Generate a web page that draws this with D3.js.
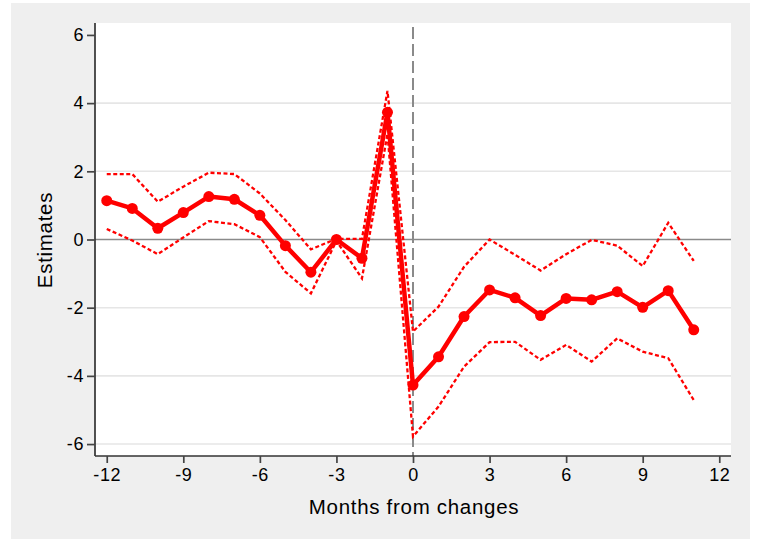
<!DOCTYPE html>
<meta charset="utf-8">
<style>
body { margin: 0; background: #fff; }
text { font-family: "Liberation Sans", Arial, sans-serif; fill: #000; }
</style>

<svg width="758" height="539"></svg>

<script src="https://d3js.org/d3.v7.min.js"></script>
<script>

// meses relativos à mudança
var months = [-12,-11,-10,-9,-8,-7,-6,-5,-4,-3,-2,-1,0,1,2,3,4,5,6,7,8,9,10,11];
var estimate = [1.14,0.91,0.33,0.79,1.26,1.18,0.71,-0.18,-0.96,0,-0.55,3.73,-4.27,-3.44,-2.26,-1.48,-1.71,-2.23,-1.73,-1.77,-1.53,-1.99,-1.50,-2.65];
var upper = [1.92,1.92,1.11,1.55,1.96,1.92,1.35,0.57,-0.29,0.02,0.02,4.36,-2.70,-1.97,-0.80,0.0,-0.45,-0.91,-0.43,-0.01,-0.18,-0.78,0.49,-0.63];
var lower = [0.31,-0.03,-0.43,0.06,0.54,0.45,0.07,-0.95,-1.58,-0.04,-1.14,3.10,-5.78,-4.90,-3.73,-3.01,-3.00,-3.53,-3.09,-3.58,-2.90,-3.29,-3.48,-4.71];
var xTicks = [-12,-9,-6,-3,0,3,6,9,12];
var yTicks = [-6,-4,-2,0,2,4,6];
var gridValues = [-6,-4,-2,2,4];

var svg = d3.select("svg");

var pLeft = 95, pRight = 731, pTop = 23, pBottom = 456;

var x = d3.scaleLinear().domain([-12.46, 12.46]).range([pLeft, pRight]);
var y = d3.scaleLinear().domain([-6.35, 6.35]).range([pBottom, pTop]);

// fundo cinza e área branca
svg.append("rect").attr("x", 11).attr("y", 3).attr("width", 739).attr("height", 536).attr("fill", "#efefef");
svg.append("rect").attr("x", pLeft).attr("y", pTop).attr("width", pRight - pLeft).attr("height", pBottom - pTop).attr("fill", "#fff");

// linhas de grade
svg.append("g")
  .selectAll("line")
  .data(gridValues)
  .enter().append("line")
    .attr("x1", pLeft).attr("x2", pRight)
    .attr("y1", d => y(d)).attr("y2", d => y(d))
    .attr("stroke", "#e6e6e6").attr("stroke-width", 1.6);

// linha do zero
svg.append("line")
  .attr("x1", pLeft).attr("x2", pRight)
  .attr("y1", y(0)).attr("y2", y(0))
  .attr("stroke", "#8a8a8a").attr("stroke-width", 1.5);

// linha vertical em 0
svg.append("line")
  .attr("x1", x(0)).attr("x2", x(0))
  .attr("y1", pTop + 4).attr("y2", pBottom)
  .attr("stroke", "#8a8a8a").attr("stroke-width", 2)
  .attr("stroke-dasharray", "12,5");

var rows = months.map((m, i) => ({m: m, est: estimate[i], hi: upper[i], lo: lower[i]}));

var lineOf = key => d3.line().x(d => x(d.m)).y(d => y(d[key]));

["hi", "lo"].forEach(k => {
  svg.append("path")
    .datum(rows)
    .attr("d", lineOf(k))
    .attr("fill", "none")
    .attr("stroke", "#ff0000")
    .attr("stroke-width", 2.3)
    .attr("stroke-dasharray", "4,2.5");
});

svg.append("path")
  .datum(rows)
  .attr("d", lineOf("est"))
  .attr("fill", "none")
  .attr("stroke", "#ff0000")
  .attr("stroke-width", 4.5)
  .attr("stroke-linejoin", "round");

svg.append("g")
  .selectAll("circle")
  .data(rows)
  .enter().append("circle")
    .attr("cx", d => x(d.m))
    .attr("cy", d => y(d.est))
    .attr("r", 5.5)
    .attr("fill", "#ff0000");

// eixos
var xAxis = svg.append("g")
  .attr("transform", "translate(0," + pBottom + ")")
  .call(d3.axisBottom(x).tickValues(xTicks).tickFormat(d => String(d)).tickSize(7).tickPadding(5).tickSizeOuter(0));

var yAxis = svg.append("g")
  .attr("transform", "translate(" + pLeft + ",0)")
  .call(d3.axisLeft(y).tickValues(yTicks).tickFormat(d => String(d)).tickSize(8).tickPadding(3).tickSizeOuter(0));

[xAxis, yAxis].forEach(g => {
  g.attr("font-size", 18).attr("font-family", "Liberation Sans, Arial, sans-serif");
  g.select(".domain").attr("stroke", "#333").attr("stroke-width", 1.7);
  g.selectAll(".tick line").attr("stroke", "#444").attr("stroke-width", 1.7);
  g.selectAll(".tick text")
    .attr("letter-spacing", 0.6)
    .attr("fill", "#000");
});
xAxis.select(".domain").attr("d", "M" + pLeft + ",0H" + pRight);
yAxis.select(".domain").attr("d", "M0," + pTop + "V" + pBottom);

svg.append("text")
  .attr("x", (pLeft + pRight) / 2 + 1)
  .attr("y", 514)
  .attr("text-anchor", "middle")
  .attr("font-size", 20.5)
  .attr("letter-spacing", 0.7)
  .text("Months from changes");

svg.append("text")
  .attr("transform", "translate(52,240) rotate(-90)")
  .attr("text-anchor", "middle")
  .attr("font-size", 20.5)
  .attr("letter-spacing", 0.7)
  .text("Estimates");

</script>
